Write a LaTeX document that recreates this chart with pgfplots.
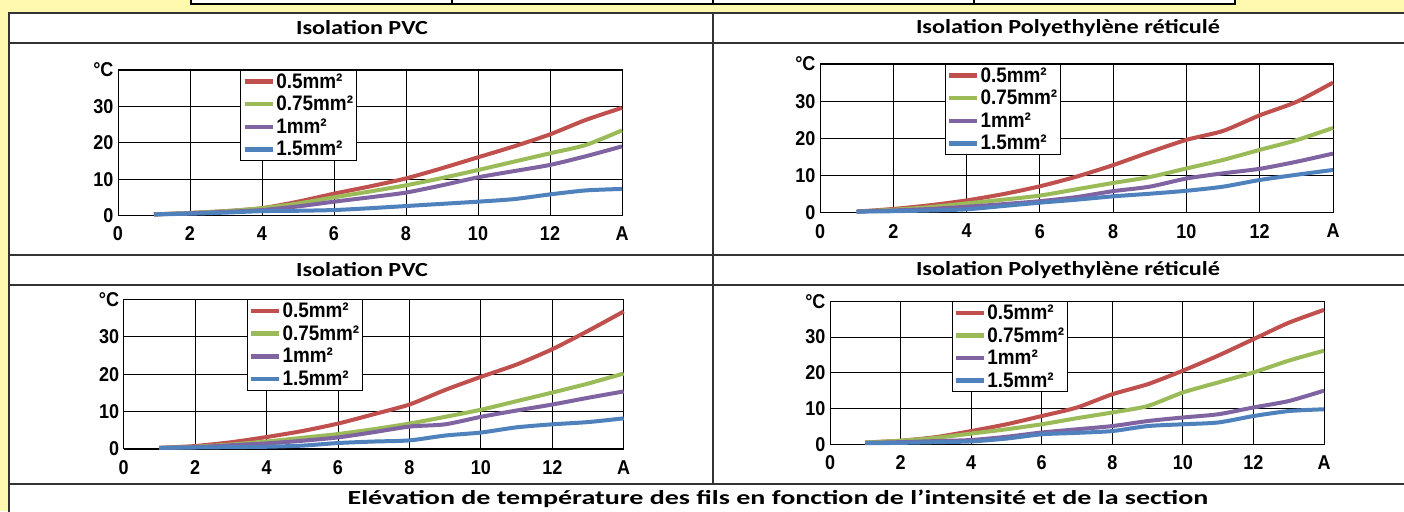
\documentclass[border=0pt]{standalone}
\usepackage{fontspec}
\usepackage{pgfplots}
\pgfplotsset{compat=1.18}
\setmainfont{Liberation Sans}
\newfontfamily\chartfont[FakeStretch=0.9]{Liberation Sans}
\newfontfamily\hdrfont[FakeStretch=1.21]{Carlito}
\newfontfamily\capfont[FakeStretch=1.40]{Carlito}
\definecolor{bgy}{RGB}{255,249,176}
\definecolor{cR}{RGB}{192,80,77}
\definecolor{cG}{RGB}{155,187,89}
\definecolor{cP}{RGB}{128,100,162}
\definecolor{cB}{RGB}{79,129,189}
\pgfplotsset{
 wirechart/.style={
  scale only axis, xmin=0, xmax=14, ymin=0, ymax=40,
  xtick={0,2,...,14}, xticklabels={0,2,4,6,8,10,12,A},
  ytick={0,10,20,30,40}, yticklabels={0,10,20,30,°C},
  grid=major, grid style={black, line width=0.8pt},
  axis line style={black, line width=1pt},
  major tick length=0pt,
  /pgf/number format/assume math mode=true,
  tick label style={font=\chartfont\bfseries\fontsize{20}{20}\selectfont},
  xticklabel style={yshift=-8pt},
  yticklabel style={xshift=-1pt},
  clip=false,
  legend cell align=left,
  legend style={at={(0.243,1)}, anchor=north west, draw=black, line width=0.8pt, fill=white,
    font=\chartfont\bfseries\fontsize{21}{21}\selectfont, inner sep=1.5pt, row sep=3.5pt,
    nodes={inner sep=1.5pt}},
  legend image code/.code={\draw[line width=4.5pt] (-2pt,0pt) -- (26pt,0pt);},
  every axis plot/.append style={line width=4pt, smooth, tension=0.4},
 }
}
\begin{document}
\begin{tikzpicture}
\fill[bgy] (0pt,0pt) rectangle (1404pt,511pt);
% top strip
\fill[white] (191pt,507pt) rectangle (1235pt,515pt);
\draw[line width=1.3pt] (191pt,515pt) -- (191pt,507pt) -- (1235pt,507pt) -- (1235pt,515pt);
\foreach \xx in {452,713,974} {\draw[line width=1.3pt] (\xx pt,507pt) -- (\xx pt,515pt);}
% main table
\fill[white] (9pt,-5pt) rectangle (1420pt,498pt);
\draw[line width=1.2pt, black!80] (9pt,-5pt) -- (9pt,498pt) -- (1420pt,498pt);
\foreach \yy in {468,256,226,27} {\draw[line width=1.2pt, black!80] (9pt,\yy pt) -- (1420pt,\yy pt);}
\draw[line width=1.2pt, black!80] (713pt,27pt) -- (713pt,498pt);
\node[font=\hdrfont\bfseries\fontsize{20}{20}\selectfont] at (362pt,483pt) {Isolation PVC};
\node[font=\hdrfont\bfseries\fontsize{20}{20}\selectfont] at (1068pt,483pt) {Isolation Polyethylène réticulé};
\node[font=\hdrfont\bfseries\fontsize{20}{20}\selectfont] at (362pt,241pt) {Isolation PVC};
\node[font=\hdrfont\bfseries\fontsize{20}{20}\selectfont] at (1068pt,241pt) {Isolation Polyethylène réticulé};
\node[font=\capfont\bfseries\fontsize{20}{20}\selectfont] at (778pt,12pt) {Elévation de température des fils en fonction de l’intensité et de la section};

% chart 1: PVC top
\begin{axis}[wirechart, at={(118pt,295.5pt)}, anchor=south west, width=504pt, height=145.5pt]
\addplot[cR] coordinates {(1,0.3)(2,0.7)(3,1.2)(4,2.0)(5,3.8)(6,6.0)(7,8.0)(8,10.2)(9,13.0)(10,16.0)(11,19.0)(12,22.3)(13,26.3)(14,29.6)};
\addplot[cG] coordinates {(1,0.3)(2,0.7)(3,1.2)(4,2.0)(5,3.3)(6,5.0)(7,6.6)(8,8.3)(9,10.3)(10,12.5)(11,14.8)(12,17.1)(13,19.4)(14,23.4)};
\addplot[cP] coordinates {(1,0.3)(2,0.6)(3,1.0)(4,1.5)(5,2.5)(6,3.8)(7,5.0)(8,6.3)(9,8.3)(10,10.5)(11,12.2)(12,13.9)(13,16.3)(14,19.0)};
\addplot[cB] coordinates {(1,0.3)(2,0.5)(3,0.8)(4,1.2)(5,1.3)(6,1.5)(7,2.0)(8,2.6)(9,3.2)(10,3.8)(11,4.5)(12,5.8)(13,6.9)(14,7.3)};
\legend{0.5mm²,0.75mm²,1mm²,1.5mm²}
\end{axis}

% chart 2: PE top
\begin{axis}[wirechart, at={(820pt,298.3pt)}, anchor=south west, width=513pt, height=148.7pt]
\addplot[cR] coordinates {(1,0.3)(2,1.0)(3,2.0)(4,3.3)(5,5.0)(6,7.1)(7,9.7)(8,12.8)(9,16.3)(10,19.6)(11,22.0)(12,26.2)(13,29.8)(14,35.0)};
\addplot[cG] coordinates {(1,0.3)(2,0.8)(3,1.5)(4,2.5)(5,3.5)(6,4.6)(7,6.3)(8,8.0)(9,9.6)(10,11.9)(11,14.2)(12,16.9)(13,19.5)(14,22.8)};
\addplot[cP] coordinates {(1,0.3)(2,0.6)(3,1.0)(4,1.6)(5,2.3)(6,3.1)(7,4.2)(8,5.8)(9,7.0)(10,9.2)(11,10.6)(12,11.8)(13,13.7)(14,15.9)};
\addplot[cB] coordinates {(1,0.3)(2,0.4)(3,0.6)(4,0.9)(5,1.8)(6,2.7)(7,3.5)(8,4.4)(9,5.1)(10,5.9)(11,7.0)(12,8.8)(13,10.2)(14,11.5)};
\legend{0.5mm²,0.75mm²,1mm²,1.5mm²}
\end{axis}

% chart 3: PVC bottom
\begin{axis}[wirechart, at={(123.7pt,62pt)}, anchor=south west, width=500pt, height=149.5pt, legend style={at={(0.246,1)}}]
\addplot[cR] coordinates {(1,0.3)(2,0.8)(3,1.8)(4,3.2)(5,4.8)(6,6.8)(7,9.3)(8,11.9)(9,15.8)(10,19.3)(11,22.6)(12,26.7)(13,31.6)(14,36.8)};
\addplot[cG] coordinates {(1,0.3)(2,0.6)(3,1.2)(4,2.0)(5,3.0)(6,4.0)(7,5.3)(8,6.8)(9,8.6)(10,10.5)(11,12.8)(12,15.1)(13,17.5)(14,20.2)};
\addplot[cP] coordinates {(1,0.3)(2,0.5)(3,1.0)(4,1.5)(5,2.2)(6,3.1)(7,4.5)(8,6.0)(9,6.6)(10,8.6)(11,10.3)(12,11.9)(13,13.7)(14,15.4)};
\addplot[cB] coordinates {(1,0.3)(2,0.4)(3,0.5)(4,0.6)(5,0.9)(6,1.6)(7,2.0)(8,2.3)(9,3.6)(10,4.4)(11,5.8)(12,6.6)(13,7.2)(14,8.2)};
\legend{0.5mm²,0.75mm²,1mm²,1.5mm²}
\end{axis}

% chart 4: PE bottom
\begin{axis}[wirechart, at={(830pt,66.7pt)}, anchor=south west, width=494pt, height=143pt, legend style={at={(0.246,1)}}]
\addplot[cR] coordinates {(1,0.5)(2,1.0)(3,2.0)(4,3.7)(5,5.6)(6,7.9)(7,10.3)(8,14.0)(9,16.8)(10,20.6)(11,24.8)(12,29.4)(13,34.0)(14,37.6)};
\addplot[cG] coordinates {(1,0.5)(2,1.0)(3,1.8)(4,3.0)(5,4.2)(6,5.6)(7,7.3)(8,8.9)(9,10.7)(10,14.5)(11,17.3)(12,20.1)(13,23.4)(14,26.2)};
\addplot[cP] coordinates {(1,0.4)(2,0.6)(3,0.9)(4,1.2)(5,2.1)(6,3.3)(7,4.2)(8,5.1)(9,6.5)(10,7.5)(11,8.4)(12,10.3)(13,12.1)(14,15.0)};
\addplot[cB] coordinates {(1,0.3)(2,0.4)(3,0.6)(4,0.8)(5,1.6)(6,2.8)(7,3.2)(8,3.7)(9,5.1)(10,5.6)(11,6.1)(12,7.9)(13,9.3)(14,9.8)};
\legend{0.5mm²,0.75mm²,1mm²,1.5mm²}
\end{axis}
\pgfresetboundingbox
\useasboundingbox (0pt,0pt) rectangle (1404pt,511pt);
\end{tikzpicture}
\end{document}
